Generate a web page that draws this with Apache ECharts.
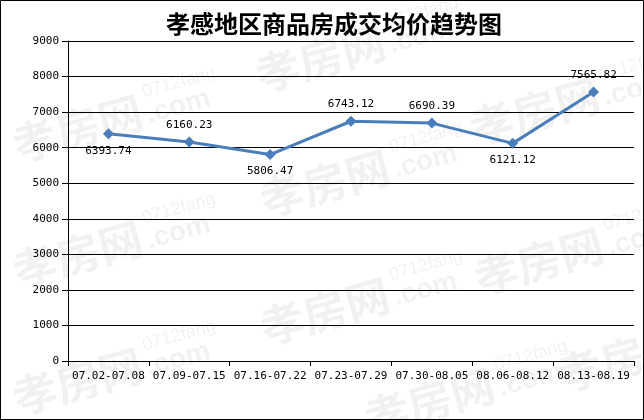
<!DOCTYPE html>
<html>
<head>
<meta charset="utf-8">
<script src="https://cdn.jsdelivr.net/npm/echarts@6/dist/echarts.min.js"></script>
<style>html,body{margin:0;padding:0;background:#fff}#c{width:644px;height:420px}</style>
</head>
<body>
<div id="c"></div>
<script>
var titleText = '孝感地区商品房成交均价趋势图';
var categories = ['07.02-07.08','07.09-07.15','07.16-07.22','07.23-07.29','07.30-08.05','08.06-08.12','08.13-08.19'];
var prices = [6393.74, 6160.23, 5806.47, 6743.12, 6690.39, 6121.12, 7565.82];
var labelSides = ['bottom','top','bottom','top','top','bottom','top'];
var yTicks = [0,1000,2000,3000,4000,5000,6000,7000,8000,9000];

var mono = '"DejaVu Sans Mono", "Liberation Mono", monospace';
var cjk = '"Noto Sans CJK SC", sans-serif';

var marks = [[20,167],[20,293],[20,420],[263,97],[267,222],[267,350],[477,150],[481,300],[565,397],[372,440]];
var wmColor = 'rgba(0,0,0,0.055)';
var graphics = marks.map(function(m){
  return {
    type:'group', x:m[0], y:m[1], rotation:0.27, z:-10, silent:true,
    children:[
      {type:'text', x:0, y:0, z:-10, style:{text:'孝房网', font:'bold 44px '+cjk, fill:wmColor, textVerticalAlign:'bottom'}},
      {type:'text', x:138, y:-30, z:-10, style:{text:'0712fang', font:'18px "Liberation Sans", sans-serif', fill:wmColor, textVerticalAlign:'bottom'}},
      {type:'text', x:136, y:-2, z:-10, style:{text:'.com', font:'bold 28px "Liberation Sans", sans-serif', fill:wmColor, textVerticalAlign:'bottom'}}
    ]
  };
});
graphics.push({type:'rect', z:100, silent:true, shape:{x:0.5,y:0.5,width:643,height:419}, style:{fill:'none', stroke:'#000', lineWidth:1}});

var chart = echarts.init(document.getElementById('c'));
chart.setOption({
  backgroundColor:'#fff',
  animation:false,
  title:{text:titleText, left:161, top:7, textStyle:{fontFamily:cjk, fontSize:24, fontWeight:'bold', color:'#000'}},
  graphic: graphics,
  grid:{left:68, right:10, top:41, bottom:59, containLabel:false},
  xAxis:{
    type:'category', data:categories, boundaryGap:true,
    axisLine:{show:true, lineStyle:{color:'#000', width:1}},
    axisTick:{show:true, length:5, lineStyle:{color:'#000'}},
    axisLabel:{color:'#000', fontFamily:mono, fontSize:11, margin:10, interval:0}
  },
  yAxis:{
    type:'value', min:yTicks[0], max:yTicks[yTicks.length-1], interval:1000,
    axisLine:{show:true, lineStyle:{color:'#000', width:1}},
    axisTick:{show:true, length:6, lineStyle:{color:'#000'}},
    splitLine:{show:true, lineStyle:{color:'#000', width:1}},
    axisLabel:{color:'#000', fontFamily:mono, fontSize:11, margin:9, formatter:function(v){return String(v);}}
  },
  series:[{
    type:'line', data:prices.map(function(v,i){return {value:v, label:{position:labelSides[i]}};}),
    symbol:'diamond', symbolSize:[11,11],
    lineStyle:{color:'#4a7ebb', width:3},
    itemStyle:{color:'#4a7ebb'},
    label:{show:true, color:'#000', fontFamily:mono, fontSize:11, distance:6, formatter:function(p){return p.value.toFixed(2);}}
  }]
});
</script>
</body>
</html>
